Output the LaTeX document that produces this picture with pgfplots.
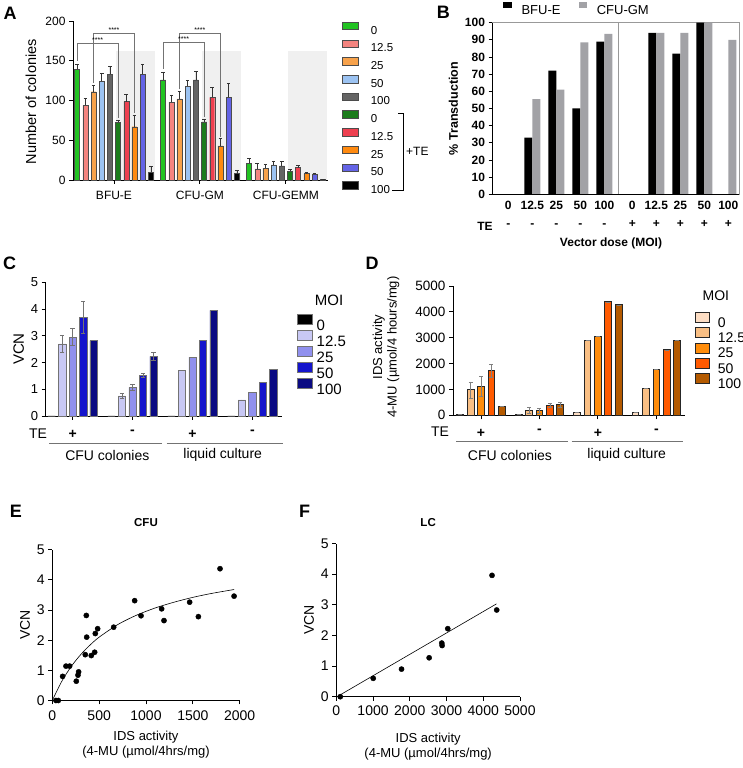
\documentclass[border=0pt]{standalone}
\usepackage{pgfplots}
\pgfplotsset{compat=1.18}
\usepackage{fontspec}
\setmainfont{Liberation Sans}

\definecolor{a0}{HTML}{22C322}
\definecolor{a1}{HTML}{F4847F}
\definecolor{a2}{HTML}{F7A24B}
\definecolor{a3}{HTML}{9CC3F2}
\definecolor{a4}{HTML}{646464}
\definecolor{a5}{HTML}{1C7C1C}
\definecolor{a6}{HTML}{EE4050}
\definecolor{a7}{HTML}{FF8A10}
\definecolor{a8}{HTML}{6464E6}
\definecolor{a9}{HTML}{000000}
\definecolor{bgray}{HTML}{A2A2A6}
\definecolor{c1}{HTML}{C8C8F4}
\definecolor{c2}{HTML}{9090EE}
\definecolor{c3}{HTML}{1414CC}
\definecolor{c4}{HTML}{0A0A82}
\definecolor{d0}{HTML}{FDDDC3}
\definecolor{d1}{HTML}{F9BF84}
\definecolor{d2}{HTML}{FF8C0A}
\definecolor{d3}{HTML}{FF5A00}
\definecolor{d4}{HTML}{B45A00}

\newcommand\fz[2]{\fontsize{#1}{#2}\selectfont}

\pgfplotsset{
  panel/.style={scale only axis, anchor=south west, clip=false,
    axis x line=bottom, axis y line=left, axis line style={-, line width=0.9pt},
    tick style={black, line width=0.9pt}, major tick length=4pt, tick align=outside,
    /pgf/number format/assume math mode=true, /pgf/number format/1000 sep={},
    scaled ticks=false},
  % bars are placed at their own x (group + offset), so error bars sit on them
  abar/.style={ybar, bar width=0.058, bar shift=0, draw=black!70, line width=0.4pt,
    /pgfplots/error bars/y dir=plus, /pgfplots/error bars/y explicit,
    /pgfplots/error bars/error bar style={black!80, line width=0.6pt},
    /pgfplots/error bars/error mark options={rotate=90, mark size=1.8pt, black!80, line width=0.6pt},
    legend image code/.code={\draw[##1, line width=0.6pt] (0pt,0.3pt) rectangle (16pt,7.8pt);}},
  bbar/.style={ybar, bar width=0.3333, bar shift=#1, draw=none,
    legend image code/.code={\fill[##1] (0pt,1.3pt) rectangle (8.3pt,8pt);}},
  cbar/.style={ybar, bar width=0.122, bar shift=0, draw=black!55, line width=0.5pt,
    /pgfplots/error bars/y dir=both, /pgfplots/error bars/y explicit,
    /pgfplots/error bars/error bar style={black!55, line width=0.7pt},
    /pgfplots/error bars/error mark options={rotate=90, mark size=2.2pt, black!55, line width=0.7pt},
    legend image code/.code={\draw[##1] (0pt,0.4pt) rectangle (15pt,10.4pt);}},
  dbar/.style={ybar, bar width=0.115, bar shift=0, draw=black!85, line width=1pt,
    /pgfplots/error bars/y dir=both, /pgfplots/error bars/y explicit,
    /pgfplots/error bars/error bar style={black!50, line width=0.7pt},
    /pgfplots/error bars/error mark options={rotate=90, mark size=2pt, black!50, line width=0.7pt},
    legend image code/.code={\draw[##1] (0pt,-0.15pt) rectangle (13.5pt,9.85pt);}},
}

\begin{document}
\begin{tikzpicture}
\useasboundingbox (0,0) rectangle (743pt,768pt);

% panel letters
\node[font=\bfseries\fz{18}{20}] at (10pt,754.7pt) {A};
\node[font=\bfseries\fz{18}{20}] at (443.3pt,755.5pt) {B};
\node[font=\bfseries\fz{18}{20}] at (9.5pt,504.7pt) {C};
\node[font=\bfseries\fz{18}{20}] at (372pt,504.7pt) {D};
\node[font=\bfseries\fz{18}{20}] at (15.8pt,257pt) {E};
\node[font=\bfseries\fz{18}{20}] at (304.7pt,257pt) {F};

% ---------------- A ----------------
\begin{axis}[panel, at={(73pt,588pt)}, width=255pt, height=159pt,
  xmin=-0.477, xmax=2.49, ymin=0, ymax=200,
  xtick={0,1,2}, xticklabels={BFU-E,CFU-GM,CFU-GEMM}, ytick={0,50,...,200},
  tick label style={font=\fz{12}{14}}, xticklabel style={yshift=-4pt},
  ylabel={Number of colonies},
  ylabel style={font=\fz{14.5}{16}, at={(axis description cs:-0.165,0.492)}, anchor=center},
  legend cell align=left,
  legend style={at={(1.0549,0.995)}, anchor=north west, draw=none, fill=none, inner sep=0pt,
    font=\fz{11.5}{13}, row sep=5.5pt, nodes={inner sep=0pt, text height=8.2pt, text depth=0pt},
    /tikz/every odd column/.style={column sep=12pt}}]
\fill[black!6] (axis cs:0.02,0) rectangle (axis cs:0.48,162);
\fill[black!6] (axis cs:1.02,0) rectangle (axis cs:1.48,162);
\fill[black!6] (axis cs:2.02,0) rectangle (axis cs:2.48,162);
\addplot[abar, fill=a0] coordinates {(-0.429,139) +- (0,7) (0.571,126) +- (0,10) (1.571,21) +- (0,6)};
\addlegendentry{0}
\addplot[abar, fill=a1] coordinates {(-0.333,94) +- (0,9) (0.667,98) +- (0,9) (1.667,14) +- (0,7)};
\addlegendentry{12.5}
\addplot[abar, fill=a2] coordinates {(-0.238,111) +- (0,8) (0.762,102) +- (0,9) (1.762,15) +- (0,5)};
\addlegendentry{25}
\addplot[abar, fill=a3] coordinates {(-0.143,124) +- (0,10) (0.857,118) +- (0,7) (1.857,19) +- (0,5)};
\addlegendentry{50}
\addplot[abar, fill=a4] coordinates {(-0.048,133) +- (0,10) (0.952,126) +- (0,11) (1.952,17.6) +- (0,5.4)};
\addlegendentry{100}
\addplot[abar, fill=a5] coordinates {(0.048,72.5) +- (0,2.5) (1.048,73) +- (0,3) (2.048,11) +- (0,2)};
\addlegendentry{0}
\addplot[abar, fill=a6] coordinates {(0.143,98.5) +- (0,9.5) (1.143,104) +- (0,12) (2.143,15.5) +- (0,2.5)};
\addlegendentry{12.5}
\addplot[abar, fill=a7] coordinates {(0.238,67) +- (0,15) (1.238,43) +- (0,9) (2.238,8) +- (0,1.5)};
\addlegendentry{25}
\addplot[abar, fill=a8] coordinates {(0.333,133) +- (0,13) (1.333,104) +- (0,18) (2.333,7) +- (0,2)};
\addlegendentry{50}
\addplot[abar, fill=a9] coordinates {(0.429,10) +- (0,7.6) (1.429,8) +- (0,4) (2.429,0.5) +- (0,0)};
\addlegendentry{100}
% significance brackets
\draw[black!55, line width=0.6pt] (axis cs:-0.429,150) -- (axis cs:-0.429,172) -- (axis cs:0.048,172) -- (axis cs:0.048,77.5);
\draw[black!55, line width=0.6pt] (axis cs:-0.238,122) -- (axis cs:-0.238,184) -- (axis cs:0.238,184) -- (axis cs:0.238,84);
\draw[black!55, line width=0.6pt] (axis cs:0.571,140) -- (axis cs:0.571,173) -- (axis cs:1.048,173) -- (axis cs:1.048,79);
\draw[black!55, line width=0.6pt] (axis cs:0.762,114) -- (axis cs:0.762,184) -- (axis cs:1.238,184) -- (axis cs:1.238,54);
\node[font=\fz{7}{8}, anchor=south, inner sep=0.6pt] at (axis cs:-0.19,172) {****};
\node[font=\fz{7}{8}, anchor=south, inner sep=0.6pt] at (axis cs:0,184) {****};
\node[font=\fz{7}{8}, anchor=south, inner sep=0.6pt] at (axis cs:0.81,173) {****};
\node[font=\fz{7}{8}, anchor=south, inner sep=0.6pt] at (axis cs:1,184) {****};
\end{axis}
\draw[black, line width=0.7pt] (398.3pt,654.7pt) -- (403.3pt,654.7pt) -- (403.3pt,577.3pt) -- (391.7pt,577.3pt);
\node[font=\fz{12}{14}, anchor=west, inner sep=0pt] at (406pt,616.3pt) {+TE};

% ---------------- B ----------------
\begin{axis}[scale only axis, anchor=south west, at={(492pt,573.7pt)}, width=247.3pt, height=171.6pt, clip=false,
  xmin=-0.68, xmax=9.63, ymin=0, ymax=100,
  axis line style={black!40, line width=0.8pt},
  xtick={0,1,2,3,4,5.17,6.17,7.17,8.17,9.17},
  xticklabels={{0\\-},{12.5\\-},{25\\-},{50\\-},{100\\-},{0\\+},{12.5\\+},{25\\+},{50\\+},{100\\+}},
  xticklabel style={align=center, font=\bfseries\fz{12}{18}},
  every x tick/.style={draw=none},
  ytick={0,10,...,100}, xtick pos=bottom, ytick pos=left, tick align=outside,
  major tick length=3.5pt, every y tick/.style={black, line width=0.9pt},
  yticklabel style={font=\bfseries\fz{12}{14}},
  /pgf/number format/assume math mode=true,
  ylabel={\% Transduction}, ylabel style={font=\bfseries\fz{12.5}{14}},
  legend columns=2,
  legend style={at={(0.0445,1.0469)}, anchor=south west, draw=none, fill=none, inner sep=0pt,
    font=\fz{13}{15}, nodes={inner sep=0pt, text height=9.3pt, text depth=0pt},
    /tikz/every odd column/.style={column sep=10pt},
    /tikz/every even column/.style={column sep=18pt}}]
\addplot[bbar=-0.1667, fill=black]
  coordinates {(0,0) (1,33) (2,72) (3,50) (4,89) (5.17,0) (6.17,94) (7.17,82) (8.17,100) (9.17,0)};
\addlegendentry{BFU-E}
\addplot[bbar=0.1667, fill=bgray]
  coordinates {(0,0) (1,55.5) (2,61) (3,88.5) (4,93.5) (5.17,0) (6.17,94) (7.17,94) (8.17,100) (9.17,90)};
\addlegendentry{CFU-GM}
\draw[black!40, line width=0.8pt] (axis cs:4.58,0) -- (axis cs:4.58,100);
\draw[black, line width=0.9pt] (rel axis cs:0,1) -- (rel axis cs:0,0) -- (rel axis cs:1,0);
\end{axis}
\node[font=\bfseries\fz{12}{14}] at (485pt,542pt) {TE};
\node[font=\bfseries\fz{12}{14}] at (611pt,525pt) {Vector dose (MOI)};

% ---------------- C ----------------
\begin{axis}[panel, at={(45.7pt,352pt)}, width=236pt, height=133.7pt,
  xmin=-0.45, xmax=3.49, ymin=0, ymax=5, ytick={0,...,5},
  xtick={0,1,2,3}, xticklabels={+,-,+,-}, xticklabel style={font=\bfseries\fz{14}{16}, yshift=-7pt},
  yticklabel style={font=\fz{13}{15}},
  ylabel={VCN}, ylabel style={font=\fz{15}{17}},
  legend cell align=left,
  legend style={at={(1.0648,0.763)}, anchor=north west, draw=none, fill=none, inner sep=0pt,
    font=\fz{15}{17}, row sep=0pt, nodes={inner sep=0pt, text height=10.7pt, text depth=0pt},
    /tikz/every odd column/.style={column sep=4pt}}]
\addplot[cbar, fill=black] coordinates {(-0.35,0) (0.65,0) (1.65,0) (2.65,0)};
\addlegendentry{0}
\addplot[cbar, fill=c1] coordinates {(-0.175,2.7) +- (0,0.32) (0.825,0.75) +- (0,0.1) (1.825,1.7) +- (0,0) (2.825,0.6) +- (0,0)};
\addlegendentry{12.5}
\addplot[cbar, fill=c2] coordinates {(0,2.95) +- (0,0.32) (1,1.07) +- (0,0.1) (2,2.2) +- (0,0) (3,0.88) +- (0,0)};
\addlegendentry{25}
\addplot[cbar, fill=c3] coordinates {(0.175,3.7) +- (0,0.6) (1.175,1.52) +- (0,0.07) (2.175,2.83) +- (0,0) (3.175,1.27) +- (0,0)};
\addlegendentry{50}
\addplot[cbar, fill=c4] coordinates {(0.35,2.82) +- (0,0) (1.35,2.23) +- (0,0.15) (2.35,3.95) +- (0,0) (3.35,1.75) +- (0,0)};
\addlegendentry{100}
\end{axis}
\node[font=\fz{15}{17}] at (329pt,467.3pt) {MOI};
\node[font=\fz{14}{16}] at (38pt,334.7pt) {TE};
\draw[black!55, line width=0.8pt] (49.3pt,324.7pt) -- (161.7pt,324.7pt);
\draw[black!55, line width=0.8pt] (166.7pt,324.7pt) -- (282.7pt,324.7pt);
\node[font=\fz{14}{16}] at (107.3pt,313pt) {CFU colonies};
\node[font=\fz{14}{16}] at (222.7pt,313pt) {liquid culture};

% ---------------- D ----------------
\begin{axis}[panel, at={(453pt,352.7pt)}, width=232pt, height=129.3pt,
  xmin=-0.48, xmax=3.49, ymin=0, ymax=5000, ytick={0,1000,...,5000},
  xtick={0,1,2,3}, xticklabels={+,-,+,-}, xticklabel style={font=\bfseries\fz{14}{16}, yshift=-6pt},
  yticklabel style={font=\fz{13.5}{15}},
  legend cell align=left,
  legend style={at={(1.0431,0.801)}, anchor=north west, draw=none, fill=none, inner sep=0pt,
    font=\fz{14}{16}, row sep=0pt, nodes={inner sep=0pt, text height=10pt, text depth=0pt},
    /tikz/every odd column/.style={column sep=8.2pt}}]
\addplot[dbar, fill=d0] coordinates {(-0.356,40) +- (0,0) (0.644,30) +- (0,0) (1.644,116) +- (0,0) (2.644,116) +- (0,0)};
\addlegendentry{0}
\addplot[dbar, fill=d1] coordinates {(-0.178,979) +- (0,310) (0.822,180) +- (0,120) (1.822,2900) +- (0,0) (2.822,1031) +- (0,0)};
\addlegendentry{12.5}
\addplot[dbar, fill=d2] coordinates {(0,1108) +- (0,390) (1,168) +- (0,90) (2,3041) +- (0,0) (3,1778) +- (0,0)};
\addlegendentry{25}
\addplot[dbar, fill=d3] coordinates {(0.178,1714) +- (0,250) (1.178,374) +- (0,77) (2.178,4382) +- (0,0) (3.178,2526) +- (0,0)};
\addlegendentry{50}
\addplot[dbar, fill=d4] coordinates {(0.356,335) +- (0,0) (1.356,400) +- (0,90) (2.356,4266) +- (0,0) (3.356,2887) +- (0,0)};
\addlegendentry{100}
\end{axis}
\node[rotate=90, align=center, font=\fz{13}{14.5}] at (386pt,421pt) {IDS activity\\4-MU (µmol/4 hours/mg)};
\node[font=\fz{14}{16}] at (715.8pt,472pt) {MOI};
\node[font=\fz{14}{16}] at (440pt,336.3pt) {TE};
\draw[black!55, line width=0.8pt] (456pt,326.3pt) -- (568.3pt,326.3pt);
\draw[black!55, line width=0.8pt] (571.7pt,326.3pt) -- (683.3pt,326.3pt);
\node[font=\fz{14}{16}] at (510pt,313pt) {CFU colonies};
\node[font=\fz{14}{16}] at (626.7pt,313pt) {liquid culture};

% ---------------- E ----------------
\begin{axis}[panel, at={(52.3pt,67.5pt)}, width=187.4pt, height=150.8pt,
  xmin=0, xmax=2000, ymin=0, ymax=5, xtick={0,500,...,2000}, ytick={0,...,5},
  tick label style={font=\fz{14}{16}}, xticklabel style={yshift=-3pt},
  ylabel={VCN}, ylabel style={font=\fz{14}{16}},
  xlabel={IDS activity\\(4-MU (µmol/4hrs/mg)}, xlabel style={align=center, font=\fz{13}{15}},
  xlabel shift=3pt,
  title={CFU}, title style={font=\bfseries\fz{11.5}{13}, at={(axis description cs:0.5,1)}, anchor=base, yshift=17.6pt}]
\addplot[only marks, mark=*, mark size=2.6pt, black] coordinates {
  (39,0) (64,0) (110,0.80) (146,1.14) (185,1.14) (256,0.64) (274,0.84) (281,0.95)
  (352,1.52) (367,2.10) (363,2.82) (416,1.49) (452,1.60) (459,2.22) (484,2.38)
  (655,2.43) (879,3.31) (947,2.81) (1167,3.04) (1192,2.65) (1466,3.26) (1559,2.78)
  (1790,4.37) (1940,3.46)};
\addplot[black, line width=0.6pt, smooth] coordinates {
  (0,0) (100,0.63) (200,1.12) (300,1.51) (400,1.83) (500,2.10) (700,2.52) (900,2.83)
  (1100,3.07) (1300,3.26) (1500,3.42) (1700,3.55) (1940,3.68)};
\end{axis}

% ---------------- F ----------------
\begin{axis}[panel, at={(336.3pt,71.3pt)}, width=183.7pt, height=153.2pt,
  xmin=0, xmax=5000, ymin=0, ymax=5, xtick={0,1000,...,5000}, ytick={0,...,5},
  tick label style={font=\fz{14}{16}}, xticklabel style={yshift=-1pt},
  ylabel={VCN}, ylabel style={font=\fz{14}{16}},
  xlabel={IDS activity\\(4-MU (µmol/4hrs/mg)}, xlabel style={align=center, font=\fz{13}{15}},
  xlabel shift=11pt,
  title={LC}, title style={font=\bfseries\fz{11.5}{13}, at={(axis description cs:0.5,1)}, anchor=base, yshift=11.4pt}]
\addplot[only marks, mark=*, mark size=2.6pt, black] coordinates {
  (109,0) (1005,0.60) (1775,0.90) (2527,1.27) (2871,1.75) (2880,1.67) (3034,2.22)
  (4239,3.96) (4366,2.83)};
\addplot[black, line width=0.6pt] coordinates {(20,0) (4360,3.03)};
\end{axis}
\end{tikzpicture}
\end{document}
